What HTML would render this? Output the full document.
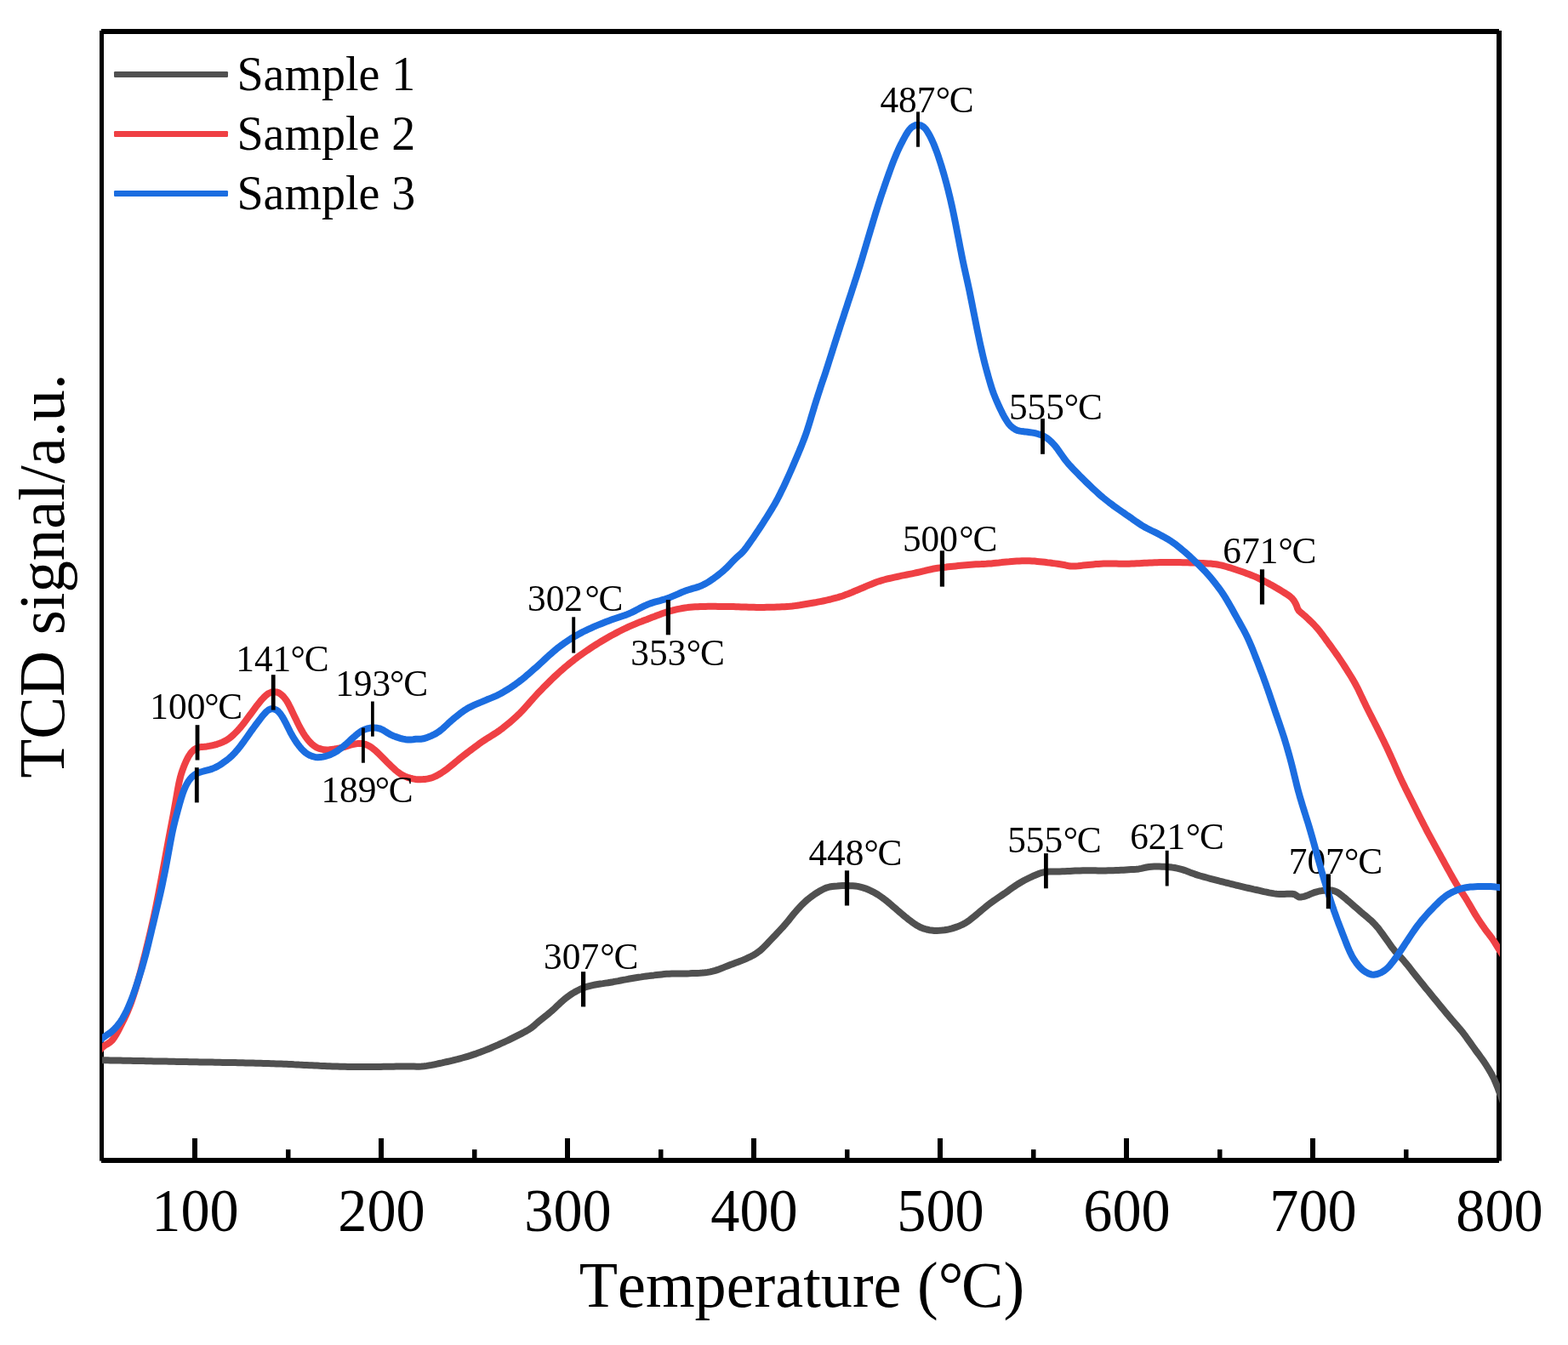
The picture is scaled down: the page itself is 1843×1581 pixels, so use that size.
<!DOCTYPE html>
<html lang="en"><head><meta charset="utf-8"><title>TCD signal vs Temperature</title>
<style>
html,body{margin:0;padding:0;background:#fff;}
body{width:1843px;height:1581px;overflow:hidden;}
svg{display:block;}
text{font-family:"Liberation Serif","DejaVu Serif",serif;fill:#000;white-space:pre;font-kerning:none;}
.tick{font-size:70px;text-anchor:middle;}
.axis{font-size:75px;}
.leg{font-size:56px;}
.ann{font-size:44px;}
.crv{fill:none;stroke-width:8.0;stroke-linejoin:round;stroke-linecap:butt;}
</style></head>
<body>
<svg width="1843" height="1581" viewBox="0 0 1843 1581">
<defs><clipPath id="plotclip"><rect x="120.0" y="37.0" width="1643.0" height="1327.0"/></clipPath></defs>
<rect x="0" y="0" width="1843" height="1581" fill="#fff"/>
<g id="frame" fill="#000" stroke="none">
<rect x="117.00" y="36.00" width="5.00" height="1328.60"/>
<rect x="1759.00" y="36.00" width="6.00" height="1328.60"/>
<rect x="119.00" y="34.00" width="1643.00" height="6.00"/>
<rect x="119.00" y="1361.00" width="1643.00" height="6.00"/>
<rect x="226.00" y="1338.00" width="6.00" height="24.00"/>
<rect x="445.00" y="1338.00" width="6.00" height="24.00"/>
<rect x="664.00" y="1338.00" width="6.00" height="24.00"/>
<rect x="883.00" y="1338.00" width="6.00" height="24.00"/>
<rect x="1102.00" y="1338.00" width="6.00" height="24.00"/>
<rect x="1321.00" y="1338.00" width="6.00" height="24.00"/>
<rect x="1540.00" y="1338.00" width="6.00" height="24.00"/>
<rect x="336.00" y="1351.20" width="5.50" height="10.80"/>
<rect x="555.00" y="1351.20" width="5.50" height="10.80"/>
<rect x="774.00" y="1351.20" width="5.50" height="10.80"/>
<rect x="993.00" y="1351.20" width="5.50" height="10.80"/>
<rect x="1212.00" y="1351.20" width="5.50" height="10.80"/>
<rect x="1431.00" y="1351.20" width="5.50" height="10.80"/>
<rect x="1650.00" y="1351.20" width="5.50" height="10.80"/>
</g>
<g id="ticklabels" class="tick">
<text transform="translate(229.50 1446.80) scale(0.975 1.03)">100</text>
<text transform="translate(448.50 1446.80) scale(0.975 1.03)">200</text>
<text transform="translate(667.50 1446.80) scale(0.975 1.03)">300</text>
<text transform="translate(886.50 1446.80) scale(0.975 1.03)">400</text>
<text transform="translate(1105.50 1446.80) scale(0.975 1.03)">500</text>
<text transform="translate(1324.50 1446.80) scale(0.975 1.03)">600</text>
<text transform="translate(1543.50 1446.80) scale(0.975 1.03)">700</text>
<text transform="translate(1762.50 1446.80) scale(0.975 1.03)">800</text>
</g>
<text class="axis" transform="translate(942.40 1535.90) scale(0.989 1.025)" text-anchor="middle" dx="0 0 0 0 0 0 0 0 0 0 0 0 0 0 -2.5 0">Temperature (°C)</text>
<text class="axis" transform="translate(75.40 676.90) rotate(-90) scale(0.996 1.01)" text-anchor="middle">TCD signal/a.u.</text>
<g id="legend">
<rect x="134.00" y="84.00" width="134.00" height="7.00" rx="1.3" fill="#505050"/>
<text class="leg" transform="translate(278.40 106.20) scale(1.0 1.02)">Sample 1</text>
<rect x="134.00" y="154.00" width="134.00" height="7.00" rx="1.3" fill="#EF4044"/>
<text class="leg" transform="translate(278.40 176.20) scale(1.0 1.02)">Sample 2</text>
<rect x="134.00" y="224.00" width="134.00" height="7.00" rx="1.3" fill="#1B6DE0"/>
<text class="leg" transform="translate(278.40 246.20) scale(1.0 1.02)">Sample 3</text>
</g>
<g id="curves-lower" clip-path="url(#plotclip)">
<path class="crv" stroke="#505050" d="M108.6 1246.0 L111.6 1246.0 114.6 1246.1 117.6 1246.1 120.6 1246.2 123.6 1246.3 126.6 1246.3 129.6 1246.4 132.6 1246.4 135.6 1246.5 138.6 1246.5 141.6 1246.6 144.6 1246.7 147.6 1246.7 150.6 1246.8 153.6 1246.8 156.6 1246.9 159.6 1246.9 162.6 1247.0 165.6 1247.1 168.6 1247.1 171.6 1247.2 174.6 1247.2 177.6 1247.3 180.6 1247.4 183.6 1247.4 186.6 1247.5 189.6 1247.5 192.6 1247.6 195.6 1247.6 198.6 1247.7 201.6 1247.8 204.6 1247.8 207.6 1247.9 210.6 1247.9 213.6 1248.0 216.6 1248.1 219.6 1248.1 222.6 1248.2 225.6 1248.2 228.6 1248.3 231.6 1248.3 234.6 1248.4 237.6 1248.4 240.6 1248.5 243.6 1248.5 246.6 1248.6 249.6 1248.6 252.6 1248.7 255.6 1248.7 258.6 1248.8 261.6 1248.9 264.6 1248.9 267.6 1249.0 270.6 1249.0 273.6 1249.1 276.6 1249.1 279.6 1249.2 282.6 1249.3 285.6 1249.3 288.6 1249.4 291.6 1249.5 294.6 1249.5 297.6 1249.6 300.6 1249.7 303.6 1249.7 306.6 1249.8 309.6 1249.9 312.6 1250.0 315.6 1250.1 318.6 1250.2 321.6 1250.3 324.6 1250.4 327.6 1250.5 330.6 1250.6 333.6 1250.7 336.6 1250.8 339.6 1251.0 342.6 1251.1 345.6 1251.3 348.6 1251.4 351.6 1251.6 354.6 1251.7 357.6 1251.9 360.6 1252.0 363.6 1252.2 366.6 1252.3 369.6 1252.5 372.6 1252.6 375.6 1252.8 378.6 1252.9 381.6 1253.0 384.6 1253.2 387.6 1253.3 390.6 1253.4 393.6 1253.5 396.6 1253.6 399.6 1253.7 402.6 1253.8 405.6 1253.8 408.6 1253.9 411.6 1253.9 414.6 1253.9 417.6 1254.0 420.6 1254.0 423.6 1254.0 426.6 1254.0 429.6 1254.0 432.6 1254.0 435.6 1254.0 438.6 1253.9 441.6 1253.9 444.6 1253.9 447.6 1253.9 450.6 1253.8 453.6 1253.8 456.6 1253.8 459.6 1253.7 462.6 1253.7 465.6 1253.6 468.6 1253.6 471.6 1253.6 474.6 1253.5 477.6 1253.5 480.6 1253.5 483.6 1253.5 486.6 1253.6 489.6 1253.7 492.6 1253.8 495.6 1253.6 498.6 1253.3 501.6 1252.9 504.6 1252.4 507.6 1251.9 510.6 1251.3 513.6 1250.7 516.6 1250.0 519.6 1249.4 522.6 1248.7 525.6 1248.0 528.6 1247.3 531.6 1246.6 534.6 1245.8 537.6 1245.1 540.6 1244.3 543.6 1243.5 546.6 1242.7 549.6 1241.8 552.6 1240.9 555.6 1239.9 558.6 1238.9 561.6 1237.8 564.6 1236.7 567.6 1235.6 570.6 1234.4 573.6 1233.2 576.6 1232.0 579.6 1230.7 582.6 1229.4 585.6 1228.1 588.6 1226.7 591.6 1225.4 594.6 1224.0 597.6 1222.6 600.6 1221.1 603.6 1219.6 606.6 1218.1 609.6 1216.6 612.6 1215.1 615.6 1213.5 618.6 1211.9 621.6 1210.1 624.6 1208.2 627.1 1206.2 629.6 1203.9 632.1 1201.7 634.6 1199.7 637.1 1197.7 639.6 1195.7 642.1 1193.7 644.6 1191.6 647.1 1189.5 649.6 1187.4 652.1 1185.1 654.6 1182.7 657.1 1180.3 659.6 1177.9 662.1 1175.7 664.6 1173.6 667.1 1171.7 669.6 1169.9 672.6 1167.9 675.6 1166.1 678.6 1164.5 681.6 1163.0 684.6 1161.7 687.6 1160.5 690.6 1159.6 693.6 1158.8 696.6 1158.1 699.6 1157.5 702.6 1157.0 705.6 1156.5 708.6 1156.1 711.6 1155.6 714.6 1155.2 717.6 1154.7 720.6 1154.2 723.6 1153.6 726.6 1153.1 729.6 1152.5 732.6 1151.9 735.6 1151.4 738.6 1150.8 741.6 1150.3 744.6 1149.8 747.6 1149.3 750.6 1148.8 753.6 1148.4 756.6 1147.9 759.6 1147.5 762.6 1147.1 765.6 1146.7 768.6 1146.4 771.6 1146.0 774.6 1145.7 777.6 1145.4 780.6 1145.1 783.6 1144.8 786.6 1144.7 789.6 1144.5 792.6 1144.5 795.6 1144.4 798.6 1144.4 801.6 1144.5 804.6 1144.4 807.6 1144.4 810.6 1144.3 813.6 1144.1 816.6 1144.0 819.6 1143.9 822.6 1143.8 825.6 1143.6 828.6 1143.3 831.6 1142.9 834.6 1142.4 837.6 1141.7 840.6 1140.9 843.6 1139.9 846.6 1138.8 849.6 1137.6 852.6 1136.4 855.6 1135.2 858.6 1134.0 861.6 1132.9 864.6 1131.8 867.6 1130.7 870.6 1129.6 873.6 1128.4 876.6 1127.1 879.6 1125.7 882.6 1124.3 885.6 1122.7 888.6 1120.9 891.1 1119.1 893.6 1117.2 896.1 1115.0 898.6 1112.5 901.1 1109.9 903.6 1107.3 906.1 1104.6 908.6 1102.0 911.1 1099.4 913.6 1096.8 916.1 1094.1 918.6 1091.4 921.1 1088.7 923.1 1086.4 925.1 1084.0 927.1 1081.6 929.1 1079.1 931.1 1076.6 933.1 1074.1 935.1 1071.7 937.1 1069.4 939.6 1066.7 942.1 1064.1 944.6 1061.6 947.1 1059.3 949.6 1057.1 952.1 1055.1 954.6 1053.2 957.1 1051.4 960.1 1049.5 963.1 1047.6 966.1 1046.0 969.1 1044.5 972.1 1043.3 975.1 1042.5 978.1 1042.0 981.1 1041.7 984.1 1041.5 987.1 1041.2 990.1 1041.1 993.1 1041.1 996.1 1041.1 999.1 1041.2 1002.1 1041.3 1005.1 1041.5 1008.1 1041.9 1011.1 1042.6 1014.1 1043.4 1017.1 1044.3 1020.1 1045.5 1023.1 1046.8 1026.1 1048.3 1029.1 1050.0 1032.1 1051.8 1034.6 1053.5 1037.1 1055.2 1039.6 1057.1 1042.1 1059.0 1044.6 1061.1 1047.1 1063.2 1049.6 1065.4 1052.1 1067.6 1054.6 1069.8 1057.1 1071.9 1059.6 1074.0 1062.1 1076.1 1064.6 1078.2 1067.1 1080.2 1069.6 1082.1 1072.1 1083.9 1074.6 1085.7 1077.1 1087.4 1080.1 1089.1 1083.1 1090.6 1086.1 1091.7 1089.1 1092.5 1092.1 1093.2 1095.1 1093.6 1098.1 1093.9 1101.1 1093.9 1104.1 1093.8 1107.1 1093.6 1110.1 1093.3 1113.1 1092.8 1116.1 1092.2 1119.1 1091.4 1122.1 1090.4 1125.1 1089.4 1128.1 1088.2 1131.1 1086.9 1134.1 1085.3 1137.1 1083.4 1139.6 1081.7 1142.1 1079.7 1144.6 1077.7 1147.1 1075.6 1149.6 1073.5 1152.1 1071.4 1154.6 1069.3 1157.1 1067.2 1159.6 1065.1 1162.1 1063.1 1164.6 1061.2 1167.1 1059.4 1169.6 1057.7 1172.1 1056.0 1174.6 1054.3 1177.1 1052.6 1179.6 1050.9 1182.1 1049.2 1184.6 1047.4 1187.1 1045.6 1189.6 1043.8 1192.1 1042.1 1194.6 1040.4 1197.6 1038.5 1200.6 1036.7 1203.6 1035.0 1206.6 1033.5 1209.6 1032.0 1212.6 1030.6 1215.6 1029.2 1218.6 1028.0 1221.6 1026.8 1224.6 1025.8 1227.6 1025.1 1230.6 1024.7 1233.6 1024.5 1236.6 1024.4 1239.6 1024.4 1242.6 1024.4 1245.6 1024.4 1248.6 1024.3 1251.6 1024.2 1254.6 1024.0 1257.6 1023.9 1260.6 1023.7 1263.6 1023.6 1266.6 1023.5 1269.6 1023.4 1272.6 1023.3 1275.6 1023.3 1278.6 1023.3 1281.6 1023.3 1284.6 1023.3 1287.6 1023.3 1290.6 1023.4 1293.6 1023.4 1296.6 1023.4 1299.6 1023.4 1302.6 1023.3 1305.6 1023.3 1308.6 1023.2 1311.6 1023.1 1314.6 1023.0 1317.6 1022.8 1320.6 1022.7 1323.6 1022.5 1326.6 1022.3 1329.6 1022.1 1332.6 1021.9 1335.6 1021.7 1338.6 1021.4 1341.6 1020.9 1344.6 1020.2 1347.6 1019.5 1350.6 1019.0 1353.6 1018.7 1356.6 1018.6 1359.6 1018.6 1362.6 1018.6 1365.6 1018.7 1368.6 1018.8 1371.6 1019.0 1374.6 1019.3 1377.6 1019.6 1380.6 1020.0 1383.6 1020.6 1386.6 1021.3 1389.6 1022.1 1392.6 1023.1 1395.6 1024.2 1398.6 1025.4 1401.6 1026.5 1404.6 1027.6 1407.6 1028.6 1410.6 1029.5 1413.6 1030.3 1416.6 1031.2 1419.6 1032.0 1422.6 1032.8 1425.6 1033.6 1428.6 1034.4 1431.6 1035.2 1434.6 1036.0 1437.6 1036.7 1440.6 1037.5 1443.6 1038.2 1446.6 1039.0 1449.6 1039.7 1452.6 1040.5 1455.6 1041.2 1458.6 1041.9 1461.6 1042.6 1464.6 1043.3 1467.6 1044.0 1470.6 1044.7 1473.6 1045.4 1476.6 1046.0 1479.6 1046.7 1482.6 1047.4 1485.6 1048.1 1488.6 1048.7 1491.6 1049.4 1494.6 1049.9 1497.6 1050.4 1500.6 1050.8 1503.6 1050.9 1506.6 1051.0 1509.6 1050.9 1512.6 1050.8 1515.6 1050.7 1518.6 1050.7 1521.6 1051.2 1524.1 1052.9 1526.6 1054.5 1529.6 1054.4 1532.6 1053.8 1535.6 1052.9 1538.6 1051.7 1541.6 1050.4 1544.6 1049.2 1547.6 1048.3 1550.6 1047.5 1553.6 1047.1 1556.6 1046.8 1559.6 1046.6 1562.6 1046.5 1565.6 1046.6 1568.6 1047.3 1571.6 1048.7 1574.6 1050.7 1577.1 1052.6 1579.6 1054.7 1582.1 1056.7 1584.6 1058.9 1587.1 1061.0 1589.6 1063.2 1592.1 1065.4 1594.6 1067.6 1597.1 1069.8 1599.6 1072.0 1602.1 1074.1 1604.6 1076.1 1607.1 1078.2 1609.6 1080.4 1612.1 1082.6 1614.6 1085.1 1617.1 1087.8 1619.1 1090.1 1621.1 1092.6 1623.1 1095.3 1625.1 1098.0 1627.1 1100.8 1629.1 1103.6 1631.1 1106.4 1633.1 1109.3 1635.1 1112.1 1637.1 1114.8 1639.1 1117.3 1641.1 1119.6 1643.6 1122.3 1646.1 1124.9 1648.6 1127.7 1650.6 1130.0 1652.6 1132.4 1654.6 1134.8 1656.6 1137.3 1658.6 1139.9 1660.6 1142.4 1662.6 1144.9 1664.6 1147.5 1666.6 1150.0 1668.6 1152.5 1670.6 1155.0 1672.6 1157.4 1674.6 1159.9 1676.6 1162.4 1678.6 1164.8 1680.6 1167.3 1682.6 1169.8 1684.6 1172.2 1686.6 1174.6 1688.6 1177.1 1690.6 1179.5 1692.6 1182.0 1694.6 1184.4 1696.6 1186.8 1698.6 1189.2 1700.6 1191.6 1702.6 1194.0 1704.6 1196.3 1706.6 1198.7 1708.6 1201.0 1710.6 1203.3 1712.6 1205.6 1714.6 1208.0 1716.6 1210.4 1718.6 1212.8 1720.6 1215.4 1722.6 1218.0 1724.6 1220.8 1726.6 1223.6 1728.6 1226.4 1730.6 1229.2 1732.6 1232.0 1734.6 1234.8 1736.6 1237.5 1738.6 1240.2 1740.6 1243.0 1742.6 1245.7 1744.6 1248.6 1746.6 1251.7 1748.6 1254.8 1750.6 1258.1 1752.6 1261.5 1754.1 1264.3 1755.6 1267.2 1757.1 1270.5 1758.6 1274.1 1760.1 1277.9 1761.6 1281.8 1763.1 1285.7 1764.6 1289.6 1766.1 1293.7 1767.6 1297.9 1768.6 1300.7 1769.6 1303.6 1771.1 1307.8 1772.6 1311.9 1774.1 1316.1 1775.6 1320.2 1777.1 1324.3 1778.6 1328.4 1780.1 1332.5 1780.6 1333.9"/>
<path class="crv" stroke="#EF4044" d="M108.6 1246.0 L110.6 1243.3 112.6 1240.6 114.6 1237.9 116.6 1235.3 118.6 1233.0 121.1 1230.5 123.6 1228.6 126.6 1226.9 129.6 1224.9 132.1 1222.5 134.1 1219.9 136.1 1216.7 137.6 1214.1 139.1 1211.3 140.6 1208.4 142.1 1205.5 143.6 1202.5 145.1 1199.4 146.6 1196.4 148.1 1193.2 149.6 1189.9 151.1 1186.3 152.6 1182.5 154.1 1178.5 155.1 1175.7 156.1 1172.7 157.1 1169.7 158.1 1166.5 159.1 1163.3 160.1 1160.0 161.1 1156.6 162.1 1153.1 163.1 1149.5 164.1 1145.9 165.1 1142.2 166.1 1138.4 167.1 1134.6 168.1 1130.7 169.1 1126.8 170.1 1122.9 171.1 1118.9 172.1 1114.8 173.1 1110.7 174.1 1106.6 175.1 1102.4 176.1 1098.1 177.1 1093.8 178.1 1089.5 179.1 1085.1 180.1 1080.6 181.1 1076.0 182.1 1071.3 183.1 1066.5 184.1 1061.6 185.1 1056.6 186.1 1051.5 187.1 1046.3 188.1 1041.1 189.1 1035.8 190.1 1030.4 191.1 1025.0 192.1 1019.6 193.1 1014.2 194.1 1008.7 195.1 1003.2 196.1 997.8 197.1 992.4 198.1 987.1 199.1 981.8 200.1 976.5 201.1 971.3 202.1 966.0 203.1 960.7 204.1 955.4 205.1 949.8 206.1 944.2 207.1 938.4 208.1 932.6 209.1 926.9 210.1 921.7 211.1 917.1 212.1 913.0 213.1 909.5 214.1 906.4 215.6 902.3 217.1 898.6 218.6 895.1 220.1 892.0 221.6 889.2 223.6 886.1 225.6 883.6 228.1 881.3 231.1 879.5 234.1 878.4 237.1 877.9 240.1 877.7 243.1 877.4 246.1 876.9 249.1 876.3 252.1 875.7 255.1 874.8 258.1 873.8 261.1 872.6 264.1 871.2 267.1 869.5 269.6 867.7 272.1 865.8 274.6 863.5 277.1 861.0 279.6 858.4 282.1 855.6 284.1 853.2 286.1 850.7 288.1 848.1 290.1 845.4 292.1 842.7 294.1 840.0 296.1 837.3 298.1 834.6 300.1 831.9 302.1 829.2 304.1 826.7 306.1 824.2 308.1 821.9 310.6 819.2 313.1 816.9 315.6 815.1 318.6 813.8 321.6 813.3 324.6 813.4 327.6 814.4 330.6 816.5 333.1 818.8 335.1 821.2 337.1 824.1 339.1 827.6 340.6 830.5 342.1 833.6 343.6 836.7 345.1 839.9 346.6 843.0 348.1 846.1 349.6 849.2 351.1 852.2 352.6 855.1 354.1 857.9 356.1 861.3 358.1 864.4 360.1 867.3 362.1 869.9 364.1 872.2 366.6 874.7 369.1 876.7 372.1 878.6 375.1 879.9 378.1 880.7 381.1 881.3 384.1 881.5 387.1 881.3 390.1 880.9 393.1 880.5 396.1 880.0 399.1 879.4 402.1 878.7 405.1 877.9 408.1 877.0 411.1 876.0 414.1 875.2 417.1 874.5 420.1 874.1 423.1 873.9 426.1 874.1 429.1 874.8 432.1 876.0 435.1 877.6 437.6 879.3 440.1 881.3 442.6 883.5 445.1 885.9 447.6 888.3 450.1 890.8 452.6 893.3 455.1 895.9 457.6 898.4 460.1 900.8 462.6 903.2 465.1 905.5 467.6 907.5 470.1 909.3 473.1 911.2 476.1 912.6 479.1 913.8 482.1 914.7 485.1 915.4 488.1 915.9 491.1 916.2 494.1 916.2 497.1 916.1 500.1 915.9 503.1 915.4 506.1 914.7 509.1 913.7 512.1 912.4 515.1 910.8 518.1 909.0 521.1 907.0 523.6 905.2 526.1 903.4 528.6 901.4 531.1 899.4 533.6 897.4 536.1 895.3 538.6 893.2 541.1 891.2 543.6 889.2 546.1 887.2 548.6 885.3 551.1 883.4 553.6 881.5 556.1 879.6 558.6 877.7 561.1 875.9 563.6 874.1 566.1 872.3 568.6 870.6 571.6 868.6 574.6 866.8 577.6 864.9 580.6 863.0 583.6 861.1 586.1 859.4 588.6 857.6 591.1 855.7 593.6 853.7 596.1 851.7 598.6 849.7 601.1 847.5 603.6 845.3 606.1 843.1 608.6 840.7 611.1 838.3 613.6 835.7 616.1 833.0 618.6 830.2 620.6 828.0 622.6 825.7 624.6 823.4 626.6 821.1 629.1 818.4 631.6 815.6 634.1 813.0 636.6 810.4 639.1 807.8 641.6 805.3 644.1 802.8 646.6 800.3 649.1 797.9 651.6 795.5 654.1 793.2 656.6 790.9 659.1 788.6 661.6 786.5 664.1 784.3 666.6 782.2 669.1 780.1 671.6 778.1 674.1 776.2 676.6 774.2 679.1 772.3 681.6 770.5 684.1 768.7 686.6 767.0 689.1 765.3 691.6 763.6 694.1 761.9 697.1 759.9 700.1 758.0 703.1 756.1 706.1 754.3 709.1 752.5 712.1 750.7 715.1 749.0 718.1 747.3 721.1 745.7 724.1 744.1 727.1 742.5 730.1 741.0 733.1 739.5 736.1 738.1 739.1 736.7 742.1 735.4 745.1 734.1 748.1 732.8 751.1 731.6 754.1 730.5 757.1 729.3 760.1 728.2 763.1 727.0 766.1 725.8 769.1 724.7 772.1 723.5 775.1 722.4 778.1 721.3 781.1 720.3 784.1 719.4 787.1 718.5 790.1 717.7 793.1 716.9 796.1 716.2 799.1 715.6 802.1 715.0 805.1 714.5 808.1 714.1 811.1 713.8 814.1 713.5 817.1 713.3 820.1 713.2 823.1 713.0 826.1 712.9 829.1 712.9 832.1 712.8 835.1 712.8 838.1 712.8 841.1 712.8 844.1 712.9 847.1 712.9 850.1 712.9 853.1 712.9 856.1 712.9 859.1 713.0 862.1 713.1 865.1 713.2 868.1 713.3 871.1 713.4 874.1 713.5 877.1 713.6 880.1 713.7 883.1 713.8 886.1 713.8 889.1 713.9 892.1 713.9 895.1 713.9 898.1 713.9 901.1 713.8 904.1 713.8 907.1 713.7 910.1 713.7 913.1 713.6 916.1 713.5 919.1 713.3 922.1 713.2 925.1 713.0 928.1 712.8 931.1 712.5 934.1 712.1 937.1 711.7 940.1 711.3 943.1 710.8 946.1 710.3 949.1 709.8 952.1 709.3 955.1 708.8 958.1 708.3 961.1 707.7 964.1 707.1 967.1 706.5 970.1 705.8 973.1 705.2 976.1 704.5 979.1 703.7 982.1 702.9 985.1 702.1 988.1 701.2 991.1 700.2 994.1 699.1 997.1 698.0 1000.1 696.8 1003.1 695.5 1006.1 694.2 1009.1 693.0 1012.1 691.7 1015.1 690.5 1018.1 689.2 1021.1 687.9 1024.1 686.7 1027.1 685.5 1030.1 684.3 1033.1 683.3 1036.1 682.4 1039.1 681.5 1042.1 680.7 1045.1 680.0 1048.1 679.3 1051.1 678.6 1054.1 678.0 1057.1 677.3 1060.1 676.7 1063.1 676.1 1066.1 675.5 1069.1 674.9 1072.1 674.3 1075.1 673.7 1078.1 673.0 1081.1 672.3 1084.1 671.6 1087.1 670.9 1090.1 670.1 1093.1 669.5 1096.1 668.8 1099.1 668.3 1102.1 667.8 1105.1 667.4 1108.1 667.0 1111.1 666.7 1114.1 666.3 1117.1 666.0 1120.1 665.7 1123.1 665.4 1126.1 665.1 1129.1 664.8 1132.1 664.5 1135.1 664.2 1138.1 663.9 1141.1 663.7 1144.1 663.5 1147.1 663.3 1150.1 663.2 1153.1 663.1 1156.1 662.9 1159.1 662.8 1162.1 662.6 1165.1 662.4 1168.1 662.1 1171.1 661.8 1174.1 661.5 1177.1 661.1 1180.1 660.8 1183.1 660.5 1186.1 660.3 1189.1 660.0 1192.1 659.8 1195.1 659.6 1198.1 659.4 1201.1 659.3 1204.1 659.2 1207.1 659.2 1210.1 659.3 1213.1 659.4 1216.1 659.6 1219.1 659.9 1222.1 660.2 1225.1 660.5 1228.1 660.8 1231.1 661.2 1234.1 661.5 1237.1 662.0 1240.1 662.4 1243.1 662.8 1246.1 663.3 1249.1 663.8 1252.1 664.3 1255.1 665.0 1258.1 665.5 1261.1 665.6 1264.1 665.4 1267.1 665.2 1270.1 664.9 1273.1 664.6 1276.1 664.3 1279.1 664.0 1282.1 663.7 1285.1 663.4 1288.1 663.1 1291.1 662.9 1294.1 662.7 1297.1 662.6 1300.1 662.6 1303.1 662.5 1306.1 662.6 1309.1 662.6 1312.1 662.6 1315.1 662.7 1318.1 662.7 1321.1 662.7 1324.1 662.7 1327.1 662.7 1330.1 662.6 1333.1 662.5 1336.1 662.3 1339.1 662.2 1342.1 662.0 1345.1 661.8 1348.1 661.7 1351.1 661.5 1354.1 661.4 1357.1 661.3 1360.1 661.2 1363.1 661.1 1366.1 661.1 1369.1 661.0 1372.1 661.0 1375.1 661.0 1378.1 661.0 1381.1 661.0 1384.1 661.1 1387.1 661.1 1390.1 661.2 1393.1 661.2 1396.1 661.3 1399.1 661.4 1402.1 661.5 1405.1 661.6 1408.1 661.7 1411.1 661.9 1414.1 662.0 1417.1 662.2 1420.1 662.4 1423.1 662.6 1426.1 662.9 1429.1 663.3 1432.1 663.8 1435.1 664.4 1438.1 665.2 1441.1 666.0 1444.1 666.8 1447.1 667.7 1450.1 668.7 1453.1 669.7 1456.1 670.7 1459.1 671.7 1462.1 672.8 1465.1 673.9 1468.1 675.0 1471.1 676.2 1474.1 677.4 1477.1 678.7 1480.1 680.2 1483.1 681.7 1486.1 683.2 1489.1 684.8 1492.1 686.4 1495.1 688.1 1498.1 689.8 1501.1 691.5 1504.1 693.3 1507.1 695.1 1510.1 697.0 1513.1 698.9 1515.6 700.6 1518.1 702.7 1520.6 705.6 1522.6 709.0 1524.1 712.2 1525.1 715.2 1526.6 717.8 1529.1 720.2 1531.6 722.2 1534.1 724.3 1536.6 726.6 1539.1 729.0 1541.6 731.4 1544.1 733.9 1546.6 736.6 1548.6 738.9 1550.6 741.3 1552.6 743.9 1554.6 746.5 1556.6 749.3 1558.6 752.0 1560.6 754.8 1562.6 757.5 1564.6 760.2 1566.6 763.0 1568.6 765.8 1570.6 768.6 1572.6 771.4 1574.6 774.4 1576.6 777.4 1578.6 780.4 1580.6 783.5 1582.6 786.6 1584.6 789.8 1586.6 793.0 1588.6 796.3 1590.6 799.6 1592.1 802.3 1593.6 805.0 1595.1 807.8 1596.6 810.8 1598.1 813.9 1599.6 817.1 1601.1 820.3 1602.6 823.5 1604.1 826.6 1605.6 829.7 1607.1 832.7 1608.6 835.7 1610.1 838.7 1611.6 841.6 1613.1 844.6 1614.6 847.5 1616.1 850.5 1617.6 853.4 1619.1 856.4 1620.6 859.4 1622.1 862.4 1623.6 865.5 1625.1 868.5 1626.6 871.6 1628.1 874.7 1629.6 877.8 1631.1 881.0 1632.6 884.2 1634.1 887.5 1635.6 890.8 1637.1 894.1 1638.6 897.5 1640.1 901.0 1641.6 904.4 1643.1 907.8 1644.6 911.1 1646.1 914.4 1647.6 917.6 1649.1 920.7 1650.6 923.8 1652.1 926.9 1653.6 929.9 1655.1 932.9 1656.6 935.9 1658.1 938.9 1659.6 941.9 1661.1 944.9 1662.6 947.9 1664.1 950.9 1665.6 953.9 1667.1 956.9 1668.6 959.8 1670.1 962.8 1671.6 965.7 1673.1 968.6 1674.6 971.5 1676.1 974.4 1677.6 977.3 1679.1 980.1 1680.6 982.9 1682.1 985.7 1683.6 988.4 1685.1 991.2 1686.6 993.9 1688.1 996.6 1689.6 999.4 1691.1 1002.1 1692.6 1004.8 1694.1 1007.6 1695.6 1010.3 1697.1 1013.0 1698.6 1015.8 1700.1 1018.5 1701.6 1021.2 1703.1 1023.9 1704.6 1026.6 1706.1 1029.3 1707.6 1032.0 1709.1 1034.6 1711.1 1038.0 1713.1 1041.3 1715.1 1044.5 1717.1 1047.4 1719.1 1050.3 1721.1 1053.3 1723.1 1056.4 1725.1 1059.7 1727.1 1063.1 1729.1 1066.5 1731.1 1070.0 1733.1 1073.4 1735.1 1076.7 1737.1 1079.8 1739.1 1082.9 1741.1 1085.9 1743.1 1088.7 1745.1 1091.6 1747.1 1094.3 1749.1 1096.9 1751.1 1099.5 1753.1 1102.2 1755.1 1105.0 1757.1 1108.1 1759.1 1111.4 1761.1 1114.7 1763.1 1117.9 1765.1 1120.9 1767.1 1123.8 1769.1 1126.8 1771.1 1129.7 1773.1 1132.6 1773.6 1133.3"/>
</g>
<g id="annotations" class="ann">
<text transform="translate(176.35 844.80) scale(0.985 1.02)" dx="0 0 0 -1.24 -1.20">100°C</text>
<text transform="translate(277.25 788.90) scale(0.985 1.02)" dx="0 0 0 -0.73 -1.20">141°C</text>
<text transform="translate(394.15 818.00) scale(0.985 1.02)" dx="0 0 0 -1.14 -1.20">193°C</text>
<text transform="translate(377.45 942.80) scale(0.985 1.02)" dx="0 0 0 -1.85 -1.20">189°C</text>
<text transform="translate(620.00 718.40) scale(0.985 1.02)" dx="0 0 0 2.47 -1.20">302°C</text>
<text transform="translate(741.30 782.30) scale(0.985 1.02)" dx="0 0 0 0.44 -1.20">353°C</text>
<text transform="translate(1034.45 132.10) scale(0.985 1.02)" dx="0 0 0 0.18 -1.20">487°C</text>
<text transform="translate(1185.90 493.20) scale(0.985 1.02)" dx="0 0 0 -0.07 -1.20">555°C</text>
<text transform="translate(1060.90 648.40) scale(0.985 1.02)" dx="0 0 0 1.35 -1.20">500°C</text>
<text transform="translate(1437.35 661.90) scale(0.985 1.02)" dx="0 0 0 0.08 -1.20">671°C</text>
<text transform="translate(639.10 1138.50) scale(0.985 1.02)" dx="0 0 0 1.25 -1.20">307°C</text>
<text transform="translate(950.45 1016.80) scale(0.985 1.02)" dx="0 0 0 -0.02 -1.20">448°C</text>
<text transform="translate(1184.20 1001.60) scale(0.985 1.02)" dx="0 0 0 0.44 -1.20">555°C</text>
<text transform="translate(1328.15 998.00) scale(0.985 1.02)" dx="0 0 0 0.59 -1.20">621°C</text>
<text transform="translate(1514.75 1026.60) scale(0.985 1.02)" dx="0 0 0 0.29 -1.20">707°C</text>
</g>
<g id="curves-upper" clip-path="url(#plotclip)">
<path class="crv" stroke="#1B6DE0" d="M108.6 1231.5 L111.1 1229.1 113.6 1226.6 116.1 1224.2 118.6 1221.9 121.1 1219.8 123.6 1218.0 126.1 1216.3 128.6 1214.6 131.1 1212.7 133.6 1210.4 136.1 1207.8 138.1 1205.5 140.1 1203.0 142.1 1200.2 144.1 1197.1 146.1 1193.6 147.6 1190.7 149.1 1187.7 150.6 1184.4 152.1 1180.9 153.6 1177.2 155.1 1173.4 156.6 1169.4 158.1 1165.1 159.1 1162.3 160.1 1159.3 161.1 1156.3 162.1 1153.2 163.1 1150.1 164.1 1146.9 165.1 1143.6 166.1 1140.3 167.1 1137.0 168.1 1133.5 169.1 1130.0 170.1 1126.3 171.1 1122.6 172.1 1118.7 173.1 1114.7 174.1 1110.7 175.1 1106.6 176.1 1102.4 177.1 1098.2 178.1 1094.1 179.1 1089.9 180.1 1085.7 181.1 1081.5 182.1 1077.3 183.1 1073.0 184.1 1068.8 185.1 1064.6 186.1 1060.4 187.1 1056.1 188.1 1051.8 189.1 1047.3 190.1 1042.8 191.1 1038.1 192.1 1033.3 193.1 1028.4 194.1 1023.4 195.1 1018.2 196.1 1012.9 197.1 1007.5 198.1 1002.0 199.1 996.5 200.1 991.0 201.1 985.7 202.1 980.6 203.1 975.8 204.1 971.4 205.1 967.2 206.1 963.2 207.1 959.4 208.1 955.7 209.1 952.0 210.1 948.4 211.1 944.8 212.1 941.3 213.1 937.9 214.1 934.8 215.1 931.8 216.6 927.9 218.1 924.4 219.6 921.5 221.6 918.1 223.6 915.5 226.1 912.8 228.6 910.7 231.6 909.0 234.6 907.8 237.6 907.0 240.6 906.2 243.6 905.4 246.6 904.6 249.6 903.6 252.6 902.4 255.6 900.9 258.6 899.1 261.6 897.1 264.1 895.3 266.6 893.5 269.1 891.5 271.6 889.3 274.1 886.9 276.6 884.2 278.6 881.9 280.6 879.4 282.6 876.9 284.6 874.3 286.6 871.6 288.6 868.8 290.6 865.9 292.6 863.1 294.6 860.2 296.6 857.5 298.6 854.7 300.6 852.0 302.6 849.3 304.6 846.7 306.6 844.1 308.6 841.6 310.6 839.2 313.1 836.5 315.6 834.5 318.6 833.3 321.6 833.3 324.6 834.4 327.1 836.3 329.6 839.1 331.6 842.1 333.6 845.5 335.1 848.3 336.6 851.2 338.1 854.3 339.6 857.3 341.1 860.3 342.6 863.1 344.1 865.7 346.1 869.0 348.1 872.1 350.1 874.9 352.1 877.5 354.1 879.9 356.6 882.5 359.1 884.8 361.6 886.5 364.6 888.1 367.6 889.2 370.6 890.0 373.6 890.2 376.6 890.1 379.6 889.6 382.6 888.9 385.6 888.0 388.6 886.9 391.6 885.5 394.6 883.8 397.6 881.8 400.1 880.0 402.6 878.1 405.1 876.1 407.6 873.9 410.1 871.6 412.6 869.3 415.1 867.1 417.6 864.9 420.1 862.8 422.6 860.9 425.6 858.9 428.6 857.5 431.6 856.5 434.6 855.8 437.6 855.5 440.6 855.5 443.6 855.8 446.6 856.5 449.6 857.8 452.6 859.6 455.6 861.5 458.6 863.3 461.6 864.7 464.6 865.9 467.6 866.9 470.6 867.8 473.6 868.6 476.6 869.2 479.6 869.5 482.6 869.5 485.6 869.2 488.6 868.8 491.6 868.7 494.6 868.7 497.6 868.3 500.6 867.4 503.6 866.3 506.6 865.1 509.6 863.7 512.6 862.1 515.6 860.2 518.1 858.3 520.6 856.2 523.1 853.9 525.6 851.6 528.1 849.2 530.6 847.0 533.1 844.9 535.6 842.8 538.1 840.8 540.6 838.8 543.1 837.0 545.6 835.2 548.6 833.3 551.6 831.6 554.6 830.1 557.6 828.7 560.6 827.4 563.6 826.1 566.6 824.9 569.6 823.6 572.6 822.3 575.6 821.1 578.6 819.9 581.6 818.6 584.6 817.3 587.6 815.7 590.6 814.1 593.6 812.3 596.6 810.5 599.6 808.6 602.6 806.6 605.1 804.9 607.6 803.1 610.1 801.2 612.6 799.3 615.1 797.3 617.6 795.3 620.1 793.1 622.6 791.0 625.1 788.8 627.6 786.6 630.1 784.4 632.6 782.2 635.1 779.9 637.6 777.6 640.1 775.3 642.6 772.9 645.1 770.6 647.6 768.4 650.1 766.2 652.6 764.1 655.1 762.0 657.6 760.1 660.1 758.2 662.6 756.4 665.1 754.7 667.6 753.0 670.6 751.0 673.6 749.2 676.6 747.4 679.6 745.7 682.6 744.1 685.6 742.5 688.6 741.1 691.6 739.7 694.6 738.3 697.6 736.9 700.6 735.6 703.6 734.4 706.6 733.2 709.6 732.0 712.6 730.8 715.6 729.7 718.6 728.6 721.6 727.5 724.6 726.5 727.6 725.5 730.6 724.5 733.6 723.5 736.6 722.4 739.6 721.2 742.6 719.9 745.6 718.4 748.6 716.8 751.6 715.2 754.6 713.7 757.6 712.2 760.6 710.8 763.6 709.6 766.6 708.6 769.6 707.7 772.6 706.9 775.6 706.1 778.6 705.2 781.6 704.3 784.6 703.3 787.6 702.2 790.6 700.9 793.6 699.6 796.6 698.3 799.6 697.0 802.6 695.7 805.6 694.6 808.6 693.5 811.6 692.6 814.6 691.7 817.6 690.9 820.6 689.9 823.6 688.8 826.6 687.4 829.6 685.9 832.6 684.1 835.6 682.1 838.1 680.4 840.6 678.6 843.1 676.7 845.6 674.8 848.1 672.7 850.6 670.6 853.1 668.3 855.6 665.8 858.1 663.2 860.6 660.6 863.1 658.0 865.6 655.4 868.1 653.2 870.6 651.1 873.1 648.6 875.1 646.3 877.1 643.7 879.1 640.9 881.1 638.1 883.1 635.3 885.1 632.4 887.1 629.5 889.1 626.5 891.1 623.6 893.1 620.5 895.1 617.5 897.1 614.4 899.1 611.2 901.1 608.1 903.1 604.9 905.1 601.7 907.1 598.4 909.1 595.0 910.6 592.4 912.1 589.7 913.6 587.0 915.1 584.1 916.6 581.2 918.1 578.1 919.6 575.0 921.1 571.9 922.6 568.7 924.1 565.5 925.6 562.2 927.1 558.9 928.6 555.5 930.1 552.1 931.6 548.7 933.1 545.2 934.6 541.7 936.1 538.2 937.6 534.6 939.1 531.0 940.6 527.4 942.1 523.7 943.6 519.9 945.1 516.0 946.6 512.0 947.6 509.1 948.6 506.2 949.6 503.1 950.6 499.9 951.6 496.6 952.6 493.3 953.6 489.9 954.6 486.6 955.6 483.3 956.6 480.0 957.6 476.7 958.6 473.5 959.6 470.3 960.6 467.2 961.6 464.0 962.6 460.9 963.6 457.9 964.6 454.8 965.6 451.8 966.6 448.8 967.6 445.9 968.6 442.9 969.6 439.9 970.6 436.9 971.6 433.8 972.6 430.7 973.6 427.6 974.6 424.4 975.6 421.3 976.6 418.1 977.6 415.0 978.6 411.8 979.6 408.6 980.6 405.5 981.6 402.3 982.6 399.2 983.6 396.0 984.6 392.9 985.6 389.8 986.6 386.7 987.6 383.6 988.6 380.5 989.6 377.5 990.6 374.4 991.6 371.4 992.6 368.3 993.6 365.3 994.6 362.2 995.6 359.2 996.6 356.1 997.6 353.1 998.6 350.0 999.6 346.9 1000.6 343.9 1001.6 340.8 1002.6 337.7 1003.6 334.7 1004.6 331.6 1005.6 328.5 1006.6 325.4 1007.6 322.2 1008.6 319.1 1009.6 315.9 1010.6 312.7 1011.6 309.4 1012.6 306.1 1013.6 302.8 1014.6 299.4 1015.6 296.1 1016.6 292.7 1017.6 289.3 1018.6 285.9 1019.6 282.6 1020.6 279.2 1021.6 275.8 1022.6 272.5 1023.6 269.1 1024.6 265.8 1025.6 262.5 1026.6 259.1 1027.6 255.8 1028.6 252.5 1029.6 249.3 1030.6 246.1 1031.6 242.9 1032.6 239.8 1033.6 236.7 1034.6 233.6 1035.6 230.6 1036.6 227.6 1037.6 224.7 1038.6 221.7 1039.6 218.8 1040.6 215.9 1041.6 213.0 1042.6 210.2 1043.6 207.4 1045.1 203.1 1046.6 199.0 1048.1 194.9 1049.6 190.9 1051.1 187.1 1052.6 183.4 1054.1 179.9 1055.6 176.5 1057.1 173.3 1058.6 170.2 1060.1 167.3 1061.6 164.4 1063.1 161.6 1064.6 158.9 1066.6 155.6 1068.6 152.7 1071.1 150.1 1073.6 148.3 1076.6 146.9 1079.6 146.9 1082.6 147.5 1085.6 149.2 1088.1 151.8 1090.1 154.7 1092.1 158.1 1093.6 160.9 1095.1 164.0 1096.6 167.3 1098.1 170.9 1099.6 174.7 1101.1 178.7 1102.6 182.9 1103.6 185.9 1104.6 188.9 1105.6 192.1 1106.6 195.3 1107.6 198.6 1108.6 202.0 1109.6 205.4 1110.6 209.0 1111.6 212.6 1112.6 216.3 1113.6 220.2 1114.6 224.1 1115.6 228.2 1116.6 232.3 1117.6 236.6 1118.6 241.0 1119.6 245.5 1120.6 250.3 1121.6 255.1 1122.6 260.1 1123.6 265.1 1124.6 270.2 1125.6 275.4 1126.6 280.6 1127.6 285.8 1128.6 290.9 1129.6 296.1 1130.6 301.1 1131.6 306.0 1132.6 310.8 1133.6 315.4 1134.6 319.9 1135.6 324.4 1136.6 328.9 1137.6 333.4 1138.6 338.0 1139.6 342.7 1140.6 347.6 1141.6 352.6 1142.6 357.6 1143.6 362.7 1144.6 367.8 1145.6 372.8 1146.6 377.8 1147.6 382.8 1148.6 387.7 1149.6 392.5 1150.6 397.3 1151.6 402.0 1152.6 406.6 1153.6 411.0 1154.6 415.4 1155.6 419.6 1156.6 423.7 1157.6 427.7 1158.6 431.5 1159.6 435.2 1160.6 438.9 1161.6 442.5 1162.6 446.0 1163.6 449.4 1164.6 452.8 1165.6 455.9 1166.6 458.9 1168.1 463.1 1169.6 466.9 1171.1 470.5 1172.6 473.9 1174.1 477.3 1175.6 480.5 1177.1 483.6 1178.6 486.6 1180.1 489.4 1181.6 492.0 1183.6 495.3 1185.6 498.1 1187.6 500.4 1190.1 502.6 1192.6 504.3 1195.6 505.8 1198.6 506.6 1201.6 507.1 1204.6 507.4 1207.6 507.8 1210.6 508.2 1213.6 508.6 1216.6 509.2 1219.6 510.0 1222.6 510.9 1225.6 512.1 1228.6 513.7 1231.1 515.4 1233.6 517.4 1236.1 519.7 1238.6 522.4 1240.6 524.7 1242.6 527.3 1244.6 530.1 1246.6 533.0 1248.6 535.8 1250.6 538.6 1252.6 541.3 1254.6 543.7 1256.6 546.1 1259.1 548.8 1261.6 551.4 1264.1 554.0 1266.6 556.6 1269.1 559.2 1271.6 561.7 1274.1 564.1 1276.6 566.6 1279.1 569.0 1281.6 571.4 1284.1 573.8 1286.6 576.1 1289.1 578.4 1291.6 580.7 1294.1 582.9 1296.6 585.0 1299.1 587.0 1301.6 589.0 1304.1 591.0 1306.6 592.8 1309.1 594.7 1311.6 596.5 1314.1 598.3 1316.6 600.0 1319.1 601.7 1321.6 603.4 1324.1 605.2 1326.6 606.9 1329.1 608.6 1331.6 610.4 1334.1 612.2 1336.6 613.9 1339.1 615.6 1342.1 617.6 1345.1 619.4 1348.1 621.0 1351.1 622.5 1354.1 624.0 1357.1 625.4 1360.1 626.9 1363.1 628.5 1366.1 630.1 1369.1 631.7 1372.1 633.4 1375.1 635.3 1377.6 637.0 1380.1 638.8 1382.6 640.6 1385.1 642.6 1387.6 644.6 1390.1 646.7 1392.6 648.8 1395.1 651.0 1397.6 653.2 1400.1 655.6 1402.6 657.9 1405.1 660.3 1407.6 662.7 1410.1 665.1 1412.6 667.6 1415.1 670.2 1417.6 672.8 1420.1 675.6 1422.1 677.9 1424.1 680.3 1426.1 682.8 1428.1 685.3 1430.1 687.9 1432.1 690.5 1434.1 693.2 1436.1 696.0 1438.1 699.0 1440.1 702.1 1442.1 705.5 1444.1 708.9 1445.6 711.5 1447.1 714.1 1448.6 716.8 1450.1 719.5 1451.6 722.2 1453.1 724.9 1454.6 727.6 1456.1 730.3 1457.6 733.0 1459.1 735.7 1460.6 738.4 1462.1 741.1 1463.6 744.0 1465.1 747.0 1466.6 750.1 1468.1 753.4 1469.6 756.8 1471.1 760.4 1472.6 764.1 1474.1 767.9 1475.6 771.7 1477.1 775.5 1478.6 779.4 1480.1 783.3 1481.6 787.2 1483.1 791.2 1484.6 795.2 1486.1 799.3 1487.6 803.4 1489.1 807.7 1490.1 810.5 1491.1 813.4 1492.1 816.3 1493.1 819.3 1494.1 822.2 1495.1 825.1 1496.1 828.1 1497.1 831.1 1498.1 834.0 1499.1 837.0 1500.1 839.9 1501.1 842.8 1502.1 845.7 1503.1 848.6 1504.1 851.6 1505.1 854.5 1506.1 857.5 1507.1 860.5 1508.1 863.5 1509.1 866.6 1510.1 869.8 1511.1 873.1 1512.1 876.4 1513.1 879.8 1514.1 883.3 1515.1 886.9 1516.1 890.5 1517.1 894.3 1518.1 898.1 1519.1 902.0 1520.1 906.0 1521.1 910.2 1522.1 914.3 1523.1 918.4 1524.1 922.5 1525.1 926.4 1526.1 930.2 1527.1 933.8 1528.1 937.3 1529.1 940.7 1530.1 944.0 1531.1 947.3 1532.1 950.5 1533.1 953.7 1534.1 956.9 1535.1 960.1 1536.1 963.2 1537.1 966.4 1538.1 969.7 1539.1 973.0 1540.1 976.4 1541.1 979.9 1542.1 983.4 1543.1 986.9 1544.1 990.5 1545.1 994.1 1546.1 997.8 1547.1 1001.4 1548.1 1005.0 1549.1 1008.6 1550.1 1012.1 1551.1 1015.7 1552.1 1019.3 1553.1 1022.8 1554.1 1026.3 1555.1 1029.7 1556.1 1033.1 1557.1 1036.4 1558.1 1039.7 1559.1 1043.0 1560.1 1046.2 1561.1 1049.4 1562.1 1052.6 1563.1 1055.7 1564.1 1058.9 1565.1 1061.9 1566.1 1065.0 1567.1 1067.9 1568.1 1070.9 1569.1 1073.7 1570.6 1077.9 1572.1 1082.0 1573.6 1086.0 1575.1 1089.9 1576.6 1093.8 1578.1 1097.7 1579.6 1101.5 1581.1 1105.4 1582.6 1109.3 1584.1 1113.0 1585.6 1116.5 1587.1 1119.8 1588.6 1122.8 1590.1 1125.6 1592.1 1128.8 1594.1 1131.7 1596.1 1134.3 1598.1 1136.6 1600.6 1139.1 1603.1 1141.2 1605.6 1142.8 1608.6 1144.4 1611.6 1145.4 1614.6 1145.7 1617.6 1145.3 1620.6 1144.4 1623.6 1143.1 1626.6 1141.3 1629.1 1139.4 1631.6 1137.1 1634.1 1134.3 1636.1 1131.8 1638.1 1129.2 1640.1 1126.5 1642.1 1123.7 1644.1 1120.8 1646.1 1117.8 1648.1 1114.8 1650.1 1111.8 1652.1 1108.7 1654.1 1105.7 1656.1 1102.6 1658.1 1099.6 1660.1 1096.6 1662.1 1093.7 1664.1 1090.9 1666.1 1088.2 1668.1 1085.6 1670.1 1083.1 1672.1 1080.6 1674.1 1078.3 1676.1 1076.0 1678.6 1073.2 1681.1 1070.5 1683.6 1067.9 1686.1 1065.3 1688.6 1062.8 1691.1 1060.3 1693.6 1058.0 1696.1 1055.8 1698.6 1053.8 1701.1 1052.0 1704.1 1050.2 1707.1 1048.6 1710.1 1047.3 1713.1 1046.1 1716.1 1045.0 1719.1 1044.1 1722.1 1043.5 1725.1 1042.9 1728.1 1042.6 1731.1 1042.4 1734.1 1042.2 1737.1 1042.1 1740.1 1042.0 1743.1 1042.0 1746.1 1042.0 1749.1 1042.0 1752.1 1042.1 1755.1 1042.3 1758.1 1042.6 1761.1 1043.0 1764.1 1043.3 1767.1 1043.5 1770.1 1043.7 1773.1 1043.9 1773.6 1043.9"/>
</g>
<g id="marks" stroke="#000">
<line x1="232.00" y1="852.20" x2="232.00" y2="893.50" stroke-width="4.8"/>
<line x1="231.30" y1="902.20" x2="231.30" y2="943.40" stroke-width="4.8"/>
<line x1="321.20" y1="793.20" x2="321.20" y2="834.60" stroke-width="4.8"/>
<line x1="437.90" y1="824.50" x2="437.90" y2="865.70" stroke-width="3.7"/>
<line x1="426.90" y1="855.50" x2="426.90" y2="896.70" stroke-width="3.9"/>
<line x1="674.20" y1="725.30" x2="674.20" y2="767.60" stroke-width="3.9"/>
<line x1="785.40" y1="705.10" x2="785.40" y2="746.30" stroke-width="5.2"/>
<line x1="1079.00" y1="131.40" x2="1079.00" y2="172.70" stroke-width="3.9"/>
<line x1="1225.50" y1="492.10" x2="1225.50" y2="533.80" stroke-width="4.8"/>
<line x1="1107.40" y1="647.30" x2="1107.40" y2="689.60" stroke-width="5.2"/>
<line x1="1483.50" y1="669.30" x2="1483.50" y2="710.50" stroke-width="5.2"/>
<line x1="685.60" y1="1142.20" x2="685.60" y2="1183.40" stroke-width="5.2"/>
<line x1="995.50" y1="1023.30" x2="995.50" y2="1064.50" stroke-width="5.2"/>
<line x1="1229.40" y1="1003.10" x2="1229.40" y2="1044.30" stroke-width="4.8"/>
<line x1="1371.70" y1="999.80" x2="1371.70" y2="1041.50" stroke-width="3.9"/>
<line x1="1561.40" y1="1027.40" x2="1561.40" y2="1068.20" stroke-width="5.2"/>
</g>
</svg>
</body></html>
